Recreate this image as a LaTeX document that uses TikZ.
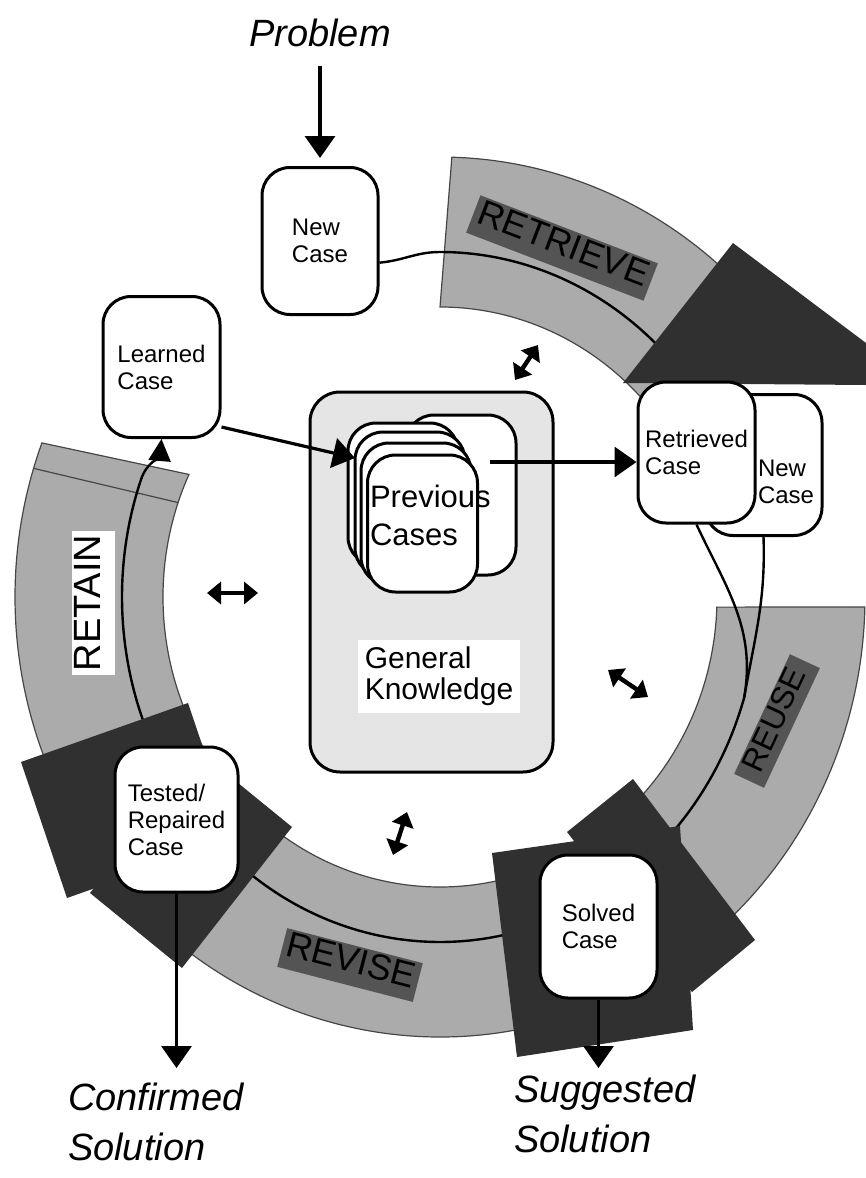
\documentclass[tikz,border=0pt]{standalone}
\usepackage{fontspec}
\setmainfont{Liberation Sans}
\usetikzlibrary{arrows.meta}

\definecolor{bandgray}{gray}{0.67}
\definecolor{headgray}{gray}{0.19}
\definecolor{taggray}{gray}{0.33}
\definecolor{kngray}{gray}{0.9}

\pgfdeclarelayer{bg}
\pgfsetlayers{bg,main}

\begin{document}
\begin{tikzpicture}[x=0.5pt,y=0.5pt,
  ringband/.style={fill=bandgray,draw=gray!55!black,line width=0.6pt},
  darkhead/.style={fill=headgray},
  cycleline/.style={line width=1.2pt},
  casebox/.style={draw,line width=1.5pt,fill=white,rounded corners=14pt,
    minimum width=58.5pt,minimum height=70.5pt,align=left,
    font=\fontsize{12}{13.5}\selectfont},
  card/.style={draw,line width=1.5pt,fill=white,rounded corners=14pt,minimum width=55pt},
  bandtag/.style={fill=taggray,inner sep=2pt,text height=0.72em,text depth=0pt},
  bigarrow/.style={line width=1.6pt,-{Triangle[length=11pt,width=15pt]}},
  dblarrow/.style={line width=2.2pt,{Triangle[length=7pt,width=11pt]}-{Triangle[length=7pt,width=11pt]}},
  outtext/.style={align=left,font=\fontsize{19}{25}\selectfont\itshape}]

\useasboundingbox (0,0) rectangle (866,-1178);

% case boxes
\node[casebox,minimum width=58pt,minimum height=73.5pt] (newcase) at (320,-241) {New\\Case};
\node[casebox] (learned) at (161.5,-367) {Learned\\Case};
\node[casebox] (newcaseb) at (763.5,-465) {};
\node[anchor=west,align=left,font=\fontsize{12}{13.5}\selectfont] (newcasebtext) at (751,-482) {New\\Case};
\node[casebox] (retrieved) at (696.5,-452.5) {Retrieved\\Case};
\node[casebox,minimum width=61.5pt,minimum height=72.5pt] (tested) at (176.5,-819.5) {Tested/\\Repaired\\Case};
\node[casebox,minimum height=71.5pt] (solved) at (598.5,-926.5) {Solved\\Case};

% knowledge base
\node[draw,line width=1.5pt,fill=kngray,rounded corners=15pt,minimum width=121.5pt,minimum height=190pt] (gk) at (431.5,-582) {};
\node[fill=white,align=left,minimum width=79pt,minimum height=36.5pt,font=\fontsize{15}{15.5}\selectfont] (gktext) at (439,-676.5) {General\\Knowledge};
\foreach \cx/\cy/\h [count=\i] in {461/-495/160, 403/-494/142, 410/-504/144, 416/-514/142, 422.5/-523.5/137}
  \node[card,minimum height=\h*0.5pt] (pc\i) at (\cx,\cy) {};
\node[anchor=west,align=left,font=\fontsize{15.5}{19}\selectfont] (pctext) at (363,-515) {Previous\\Cases};
\coordinate (pcin) at (355,-458);
\coordinate (pcout) at (490,-462);
\draw[bigarrow] (learned.-45) -- (pcin);
\draw[bigarrow] (pcout) -- (pcout -| retrieved.west);

% input and outputs
\node[font=\fontsize{19}{25}\selectfont\itshape] (problem) at (320,-33) {Problem};
\draw[bigarrow,shorten <=6pt,shorten >=4pt] (problem.south) -- (newcase.north);
\node[outtext,anchor=north west] (confirmed) at (61,-1076) {Confirmed\\Solution};
\node[outtext,anchor=north west] (suggested) at (507,-1068) {Suggested\\Solution};
\draw[bigarrow,shorten >=4pt] (tested.south) -- (tested.south |- confirmed.north);
\draw[bigarrow] (solved.south) -- (solved.south |- suggested.north);

\foreach \ax/\ay/\bx/\by in {538/-345/515/-380, 207/-593/258/-593, 608/-670/648/-697, 407/-812/393/-855}
  \draw[dblarrow] (\ax,\ay) -- (\bx,\by);

\begin{pgfonlayer}{bg}
\begin{scope}[shift={(440,-597)}]
\foreach \oa/\ob/\ia/\ib in {88.4/40/40/90, -1.3/-58/-58/-2, -66/-132/-132/-66, 226/159.5/155/226}
  \draw[ringband] (\oa:425 and 440) arc[start angle=\oa,end angle=\ob,x radius=425,y radius=440]
    -- (\ia:277 and 290) arc[start angle=\ia,end angle=\ib,x radius=277,y radius=290] -- cycle;
\draw[gray!55!black,line width=0.6pt] (163:425 and 440) -- (161:277 and 290);
% the cycle
\draw[cycleline] (newcase.-20) to[out=5,in=180] (90:318 and 345)
  arc[start angle=90,end angle=45,x radius=318,y radius=345];
\draw[cycleline] (retrieved.south) to[out=-65,in=80] (-17:318 and 345)
  arc[start angle=-17,end angle=-52,x radius=318,y radius=345];
\draw[cycleline] (newcaseb.south) to[out=-88,in=80] (-17:318 and 345);
\draw[cycleline] (-68:318 and 345) arc[start angle=-68,end angle=-130,x radius=318,y radius=345];
\draw[cycleline,-{Triangle[length=11pt,width=11pt]}] (222:318 and 345)
  arc[start angle=222,end angle=160,x radius=318,y radius=345] to[out=71,in=-95] (learned.south);
\end{scope}
\fill[darkhead] (623,-383) -- (733,-243) -- (866,-343) -- (866,-385) -- cycle;
\fill[darkhead] (567,-832) -- (633,-779) -- (755,-940) -- (692,-992) -- cycle;
\fill[darkhead] (492,-853) -- (680,-826) -- (693,-1030) -- (517,-1057) -- cycle;
\fill[darkhead] (21,-762) -- (188,-703) -- (234,-839) -- (67,-898) -- cycle;
\fill[darkhead] (90,-893) -- (200,-752) -- (292,-827) -- (182,-968) -- cycle;
\node[bandtag,rotate=-21,minimum width=95pt,minimum height=20pt,font=\fontsize{18}{18}\selectfont] (tagretrieve) at (562,-248) {RETRIEVE};
\node[bandtag,rotate=65,minimum width=66pt,minimum height=16.5pt,font=\fontsize{16}{16}\selectfont] (tagreuse) at (777,-721) {REUSE};
\node[bandtag,rotate=-14.5,minimum width=70pt,minimum height=20pt,font=\fontsize{18}{18}\selectfont] (tagrevise) at (350,-965) {REVISE};
\node[bandtag,fill=white,rotate=90,minimum width=71.5pt,minimum height=21.5pt,font=\fontsize{19}{19}\selectfont] (tagretain) at (93,-603) {RETAIN};
\end{pgfonlayer}
\end{tikzpicture}
\end{document}
